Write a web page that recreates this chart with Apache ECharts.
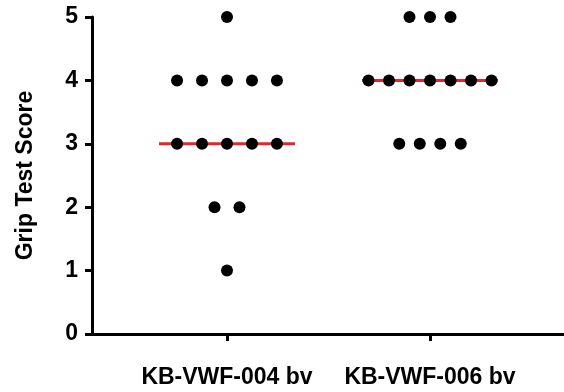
<!DOCTYPE html>
<html lang="en">
<head>
    <meta charset="UTF-8" />
    <title>Grip Test Score</title>
    <script src="https://cdn.jsdelivr.net/npm/echarts@6/dist/echarts.min.js"></script>
    <style>
        html, body { margin: 0; padding: 0; background: #fff; }
    </style>
</head>
<body>
    <div id="chart" style="width: 564px; height: 392px"></div>
    <script>
        // data
        var categories = ["KB-VWF-004 bv", "KB-VWF-006 bv"];
        var scores004 = [5, 4, 4, 4, 4, 4, 3, 3, 3, 3, 3, 2, 2, 1];
        var scores006 = [5, 5, 5, 4, 4, 4, 4, 4, 4, 4, 3, 3, 3, 3];
        var yTicks = [0, 1, 2, 3, 4, 5];

        // layout: group centers on a value x axis, dot spacing per group
        var groupPos = [1, 2];
        var dotSpacing = [0.123, 0.101];
        var medianHalfWidth = 0.335;

        function median(arr) {
            var s = arr.slice().sort(function (a, b) { return a - b; });
            var m = Math.floor(s.length / 2);
            return s.length % 2 ? s[m] : (s[m - 1] + s[m]) / 2;
        }

        // spread equal values side by side (scatter dot plot)
        function spread(arr, center, step) {
            var counts = {};
            arr.forEach(function (v) { counts[v] = (counts[v] || 0) + 1; });
            var seen = {};
            return arr.map(function (v) {
                var i = seen[v] || 0;
                seen[v] = i + 1;
                return [center + (i - (counts[v] - 1) / 2) * step, v];
            });
        }

        var groups = [scores004, scores006];
        var series = [];
        groups.forEach(function (g, k) {
            var med = median(g);
            series.push({
                type: "line",
                data: [[groupPos[k] - medianHalfWidth, med], [groupPos[k] + medianHalfWidth, med]],
                symbol: "none",
                lineStyle: { color: "#e3262b", width: 3 },
                z: 1,
                silent: true
            });
        });
        groups.forEach(function (g, k) {
            series.push({
                type: "scatter",
                data: spread(g, groupPos[k], dotSpacing[k]),
                symbolSize: 12,
                itemStyle: { color: "#000", opacity: 1 },
                z: 3
            });
        });

        var mCharts = echarts.init(document.getElementById("chart"));
        var font = "'Liberation Sans', Arial, sans-serif";
        var option = {
            animation: false,
            grid: { left: 92, right: 0, top: 17, bottom: 58 },
            xAxis: {
                type: "value",
                min: 0.335,
                max: 2.66,
                splitLine: { show: false },
                axisLine: { show: true, onZero: false, lineStyle: { color: "#000", width: 3 } },
                axisTick: { show: true, customValues: groupPos, length: 7, lineStyle: { color: "#000", width: 3 } },
                axisLabel: {
                    customValues: groupPos,
                    margin: 32,
                    color: "#000",
                    fontSize: 23,
                    fontWeight: "bold",
                    fontFamily: font,
                    formatter: function (v) {
                        var i = groupPos.indexOf(v);
                        return i >= 0 ? categories[i] : "";
                    }
                }
            },
            yAxis: {
                type: "value",
                min: yTicks[0],
                max: yTicks[yTicks.length - 1],
                interval: 1,
                name: "Grip Test Score",
                nameLocation: "middle",
                nameGap: 55,
                nameTextStyle: { color: "#000", fontSize: 23, fontWeight: "bold", fontFamily: font },
                splitLine: { show: false },
                axisLine: { show: true, lineStyle: { color: "#000", width: 3 } },
                axisTick: { show: true, length: 7, lineStyle: { color: "#000", width: 3 } },
                axisLabel: { margin: 14, color: "#000", fontSize: 23, fontWeight: "bold", fontFamily: font }
            },
            series: series
        };
        mCharts.setOption(option);
    </script>
</body>
</html>
